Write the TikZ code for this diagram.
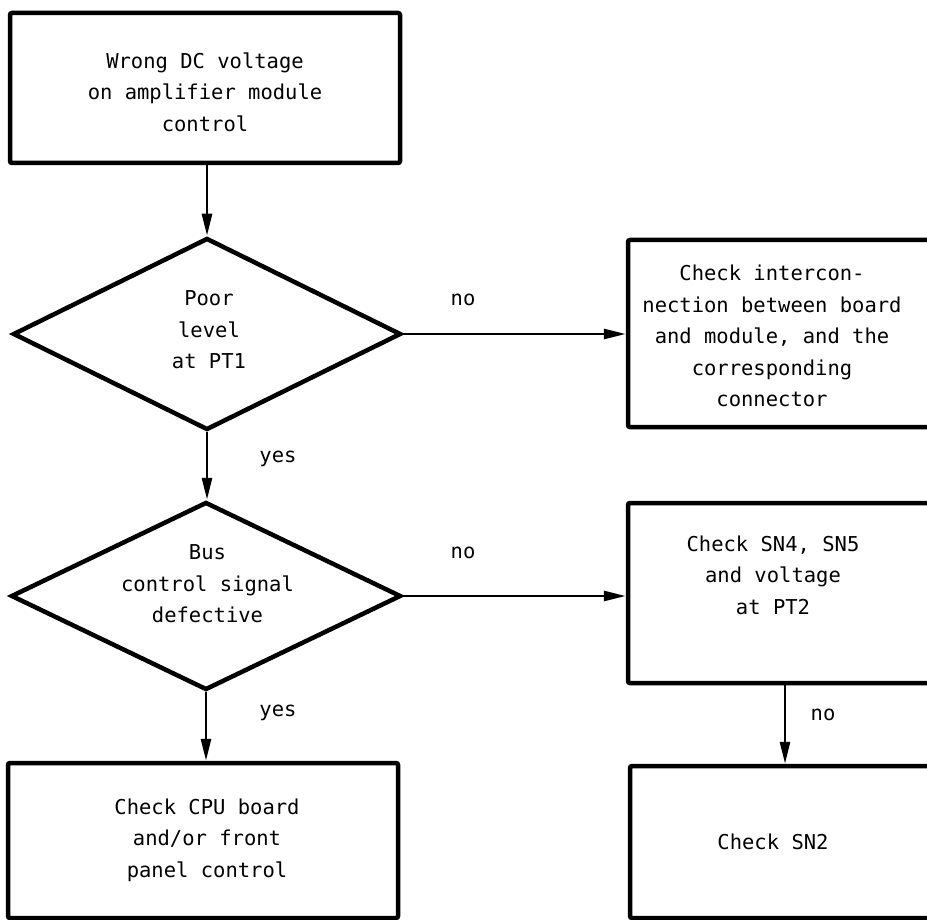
\documentclass[tikz,border=0pt]{standalone}
\usepackage{fontspec}
\newfontfamily\monof{DejaVu Sans Mono}
\usetikzlibrary{arrows.meta,shapes.geometric}
\begin{document}
\begin{tikzpicture}[x=1pt,y=-1pt,
 box/.style={draw,line width=4.5pt,rectangle,rounded corners=2pt,inner sep=0pt},
 dec/.style={draw,line width=4.5pt,diamond,inner sep=0pt},
 txt/.style={font=\monof\fontsize{20.5}{31.5}\selectfont,align=center,inner sep=0pt},
 lbl/.style={font=\monof\fontsize{20.5}{24}\selectfont,inner sep=0pt},
 conn/.style={line width=2.6pt,-{Triangle[length=22pt,width=10pt]}}]
\useasboundingbox (0,0) rectangle (927,920);
\fill[white] (0,0) rectangle (927,920);
\clip (0,0) rectangle (927,920);

% boxes
\node[box,minimum width=390pt,minimum height=150pt] (b1) at (205,88) {};
\node[txt] (b1t) at (205,92) {Wrong DC voltage\\on amplifier module\\control};

\node[box,minimum width=312pt,minimum height=187pt] (b2) at (784,333.5) {};
\node[txt] (b2t) at (772,336) {Check intercon-\\nection between board\\and module, and the\\corresponding\\connector};

\node[box,minimum width=312pt,minimum height=180pt] (b4) at (784,593) {};
\node[txt] (b4t) at (773,575) {Check SN4, SN5\\and voltage\\at PT2};

\node[box,minimum width=390pt,minimum height=155pt] (b3) at (203,840.5) {};
\node[txt] (b3t) at (207,840) {Check CPU board\\and/or front\\panel control};

\node[box,minimum width=310pt,minimum height=152pt] (b5) at (785,842) {};
\node[txt] (b5t) at (773,842) {Check SN2};

% decisions
\node[dec,minimum width=388pt,minimum height=192pt] (d1) at (207,334) {};
\node[txt] (d1t) at (209,330) {Poor\\level\\at PT1};

\node[dec,minimum width=390pt,minimum height=188pt] (d2) at (206,596) {};
\node[txt] (d2t) at (207.5,584) {Bus\\control signal\\defective};

% connectors
\draw[conn] (b1.south -| d1.north) -- (d1.north);
\draw[conn] (d1.south) -- (d1.south |- d2.north);
\draw[conn] (d2.south) -- (b3.north -| d2.south);
\draw[conn] (d1.east) -- (d1.east -| b2.west);
\draw[conn] (d2.east) -- (d2.east -| b4.west);
\draw[conn] (b4.south -| b5.north) -- (b5.north);

% labels
\node[lbl] (l1) at (463,300) {no};
\node[lbl] (l2) at (463,553) {no};
\node[lbl] (l3) at (278,459) {yes};
\node[lbl] (l4) at (278,713) {yes};
\node[lbl] (l5) at (823,715) {no};
\end{tikzpicture}
\end{document}
